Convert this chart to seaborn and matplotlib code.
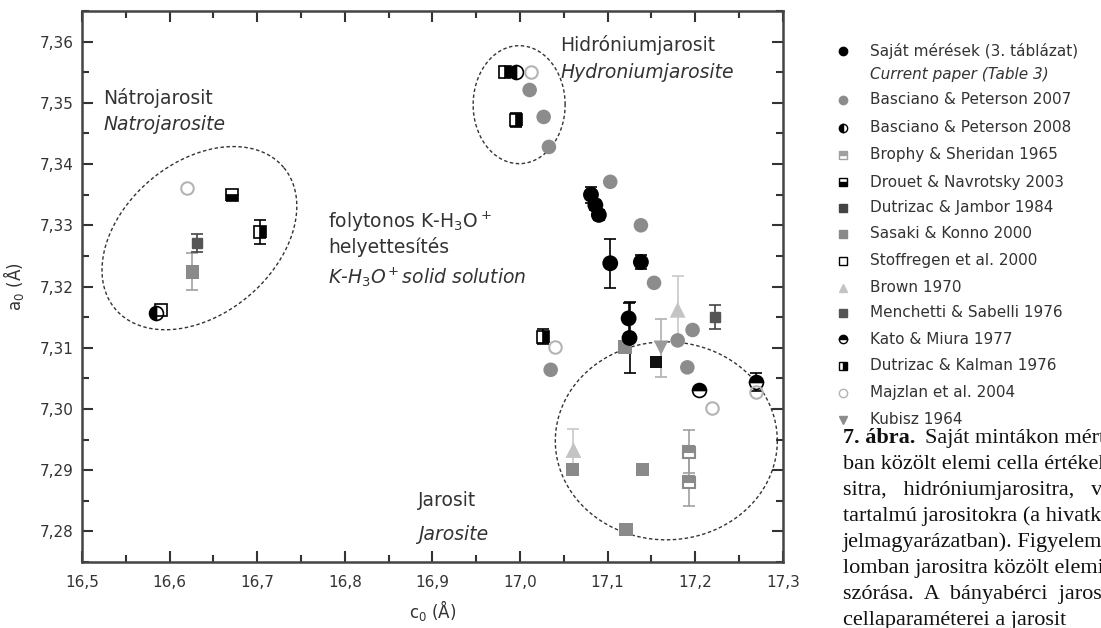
import numpy as np
import seaborn as sns
import matplotlib.pyplot as plt
from matplotlib.lines import Line2D
from matplotlib.ticker import MultipleLocator, FuncFormatter

# c0 / a0 values (Å)
sajat_c = [17.081, 17.086, 17.090, 17.103, 17.138, 17.124, 17.125]
sajat_a = [7.3350, 7.3333, 7.3317, 7.3238, 7.3240, 7.3148, 7.3116]
sajat_err = [0.0013, 0.0008, 0.0008, 0.0040, 0.0012, 0.0025, 0.0058]

bp2007_c = [17.011, 17.027, 17.033, 17.103, 17.138, 17.153, 17.035, 17.180, 17.197, 17.191]
bp2007_a = [7.3521, 7.3477, 7.3428, 7.3371, 7.3300, 7.3206, 7.3064, 7.3112, 7.3129, 7.3068]

bp2008_c = [16.995, 16.585]
bp2008_a = [7.3551, 7.3156]

brophy_c = [17.193, 17.193]
brophy_a = [7.2930, 7.2881]
brophy_err = [0.0035, 0.0040]

drouet_c = [16.671]
drouet_a = [7.3349]

dj_c = [17.155]
dj_a = [7.3077]

sasaki_c = [16.626, 17.120, 17.060, 17.140, 17.121]
sasaki_a = [7.3224, 7.3101, 7.2901, 7.2901, 7.2803]
sasaki_err = [0.0030, 0, 0, 0, 0]

stoff_c = [16.590]
stoff_a = [7.3162]

brown_c = [17.180, 17.061]
brown_a = [7.3162, 7.2933]
brown_err = [0.0055, 0.0035]

menchetti_c = [17.223, 16.631]
menchetti_a = [7.3150, 7.3271]
menchetti_err = [0.0020, 0.0015]

kato_c = [17.204, 17.269]
kato_a = [7.3031, 7.3044]
kato_err = [0, 0.0015]

dk_c = [16.983, 16.995, 16.703, 17.026]
dk_a = [7.3551, 7.3472, 7.3289, 7.3118]
dk_err = [0, 0.0012, 0.0019, 0.0012]

majzlan_c = [17.012, 16.620, 17.040, 17.219, 17.269]
majzlan_a = [7.3550, 7.3361, 7.3101, 7.3001, 7.3028]

kubisz_c = [17.161]
kubisz_a = [7.3100]
kubisz_err = [0.0047]

legend_labels = ["Saját mérések (3. táblázat)", "Current paper (Table 3)",
                 "Basciano & Peterson 2007", "Basciano & Peterson 2008",
                 "Brophy & Sheridan 1965", "Drouet & Navrotsky 2003",
                 "Dutrizac & Jambor 1984", "Sasaki & Konno 2000",
                 "Stoffregen et al. 2000", "Brown 1970",
                 "Menchetti & Sabelli 1976", "Kato & Miura 1977",
                 "Dutrizac & Kalman 1976", "Majzlan et al. 2004", "Kubisz 1964"]

sns.set_style("ticks")
plt.rcParams['font.family'] = ['DejaVu Sans']
plt.rcParams['mathtext.fontset'] = 'dejavusans'

fig = plt.figure(figsize=(11.01, 6.28), dpi=100)
ax = fig.add_axes([0.0745, 0.105, 0.6365, 0.8775])
ax.set_xlim(16.5, 17.3)
ax.set_ylim(7.275, 7.365)

# dashed ellipses (drawn in pixel units so the tilt looks right)
sx = 0.6365 * 1101 / 0.8
sy = 0.8775 * 628 / 0.09
def ellipse(cx, cy, a_px, b_px, ang):
    t = np.linspace(0, 2 * np.pi, 300)
    u, v = a_px * np.cos(t), b_px * np.sin(t)
    r = np.deg2rad(ang)
    xr = u * np.cos(r) - v * np.sin(r)
    yr = u * np.sin(r) + v * np.cos(r)
    ax.plot(cx + xr / sx, cy + yr / sy, color='#333333', lw=1.0,
            ls=(0, (2.5, 1.8)), zorder=1)

ellipse(16.634, 7.3279, 110, 76, 40)
ellipse(16.999, 7.3497, 46, 59, 0)
ellipse(17.167, 7.2948, 111, 99, 0)

# error bars
def ebars(c, a, err, col):
    ax.errorbar(c, a, yerr=err, fmt='none', ecolor=col, elinewidth=1.2,
                capsize=4, capthick=1.2, zorder=2)

ebars(sajat_c, sajat_a, sajat_err, 'black')
ebars(brophy_c, brophy_a, brophy_err, '#a0a0a0')
ebars(sasaki_c, sasaki_a, sasaki_err, '#a0a0a0')
ebars(brown_c, brown_a, brown_err, '#c8c8c8')
ebars(menchetti_c, menchetti_a, menchetti_err, '#444444')
ebars(kato_c, kato_a, kato_err, 'black')
ebars(dk_c, dk_a, dk_err, 'black')
ebars(kubisz_c, kubisz_a, kubisz_err, '#b0b0b0')

# plain markers via seaborn
sns.scatterplot(x=bp2007_c, y=bp2007_a, color='#8c8c8c', s=110, marker='o',
                edgecolor='none', ax=ax, zorder=3)
sns.scatterplot(x=sasaki_c, y=sasaki_a, color='#8a8a8a', s=95, marker='s',
                edgecolor='none', ax=ax, zorder=3)
sns.scatterplot(x=brown_c, y=brown_a, color='#c4c4c4', s=130, marker='^',
                edgecolor='none', ax=ax, zorder=3)
sns.scatterplot(x=kubisz_c, y=kubisz_a, color='#9a9a9a', s=110, marker='v',
                edgecolor='none', ax=ax, zorder=3)
sns.scatterplot(x=dj_c, y=dj_a, color='#111111', s=80, marker='s',
                edgecolor='none', ax=ax, zorder=3)
sns.scatterplot(x=sajat_c, y=sajat_a, color='black', s=130, marker='o',
                edgecolor='none', ax=ax, zorder=4)

# special (half filled / open) markers
ax.plot(bp2008_c, bp2008_a, 'o', ms=10, mfc='black', mec='black',
        fillstyle='left', markerfacecoloralt='white', mew=1.2, ls='none', zorder=4)
ax.plot(brophy_c, brophy_a, 's', ms=9, mfc='#8a8a8a', mec='#8a8a8a',
        fillstyle='top', markerfacecoloralt='white', mew=1.5, ls='none', zorder=4)
ax.plot(drouet_c, drouet_a, 's', ms=8, mfc='black', mec='black',
        fillstyle='bottom', markerfacecoloralt='white', mew=1.2, ls='none', zorder=4)
ax.plot(stoff_c, stoff_a, 's', ms=8, mfc='none', mec='black', mew=1.2,
        ls='none', zorder=4)
ax.plot(menchetti_c, menchetti_a, 's', ms=7, mfc='#555555', mec='#555555',
        ls='none', zorder=4)
ax.plot(kato_c, kato_a, 'o', ms=10, mfc='black', mec='black',
        fillstyle='top', markerfacecoloralt='white', mew=1.2, ls='none', zorder=4)
ax.plot(dk_c, dk_a, 's', ms=8, mfc='black', mec='black',
        fillstyle='right', markerfacecoloralt='white', mew=1.2, ls='none', zorder=4)
ax.plot(majzlan_c, majzlan_a, 'o', ms=9, mfc='none', mec='#b4b4b4', mew=1.5,
        ls='none', zorder=4)

# axes styling
for sp in ax.spines.values():
    sp.set_linewidth(1.8)
    sp.set_color('#444444')
ax.xaxis.set_major_locator(MultipleLocator(0.1))
ax.xaxis.set_minor_locator(MultipleLocator(0.05))
ax.yaxis.set_major_locator(MultipleLocator(0.01))
ax.yaxis.set_minor_locator(MultipleLocator(0.005))
ax.xaxis.set_major_formatter(FuncFormatter(lambda v, p: f"{v:.1f}".replace('.', ',')))
ax.yaxis.set_major_formatter(FuncFormatter(lambda v, p: f"{v:.2f}".replace('.', ',')))
ax.tick_params(which='both', direction='in', top=True, right=True,
               colors='#333333', labelsize=11, width=1.5)
ax.tick_params(which='major', length=8)
ax.tick_params(axis='x', which='major', pad=9)
ax.tick_params(axis='y', which='major', pad=6)
ax.tick_params(which='minor', length=5)
ax.set_xlabel("c$_0$ (Å)", fontsize=12, color='#333333', labelpad=6)
ax.set_ylabel("a$_0$ (Å)", fontsize=12, color='#333333', labelpad=10)

# annotations
tc = '#333333'
ax.text(16.524, 7.3508, "Nátrojarosit", fontsize=13.5, color=tc, va='center')
ax.text(16.524, 7.3464, "Natrojarosite", fontsize=13.5, color=tc, va='center', style='italic')
ax.text(17.046, 7.3595, "Hidróniumjarosit", fontsize=13.5, color=tc, va='center')
ax.text(17.046, 7.3550, "Hydroniumjarosite", fontsize=13.5, color=tc, va='center', style='italic')
ax.text(16.781, 7.3305, "folytonos K-H$_3$O$^+$", fontsize=13.5, color=tc, va='center')
ax.text(16.781, 7.3264, "helyettesítés", fontsize=13.5, color=tc, va='center')
ax.text(16.781, 7.3215, "K-H$_3$O$^+$solid solution", fontsize=13.5, color=tc,
        va='center', style='italic')
ax.text(16.884, 7.2851, "Jarosit", fontsize=13.5, color=tc, va='center')
ax.text(16.884, 7.2795, "Jarosite", fontsize=13.5, color=tc, va='center', style='italic')

# legend, placed by hand
handles = [
    dict(marker='o', mfc='black', mec='black'),
    None,
    dict(marker='o', mfc='#8c8c8c', mec='#8c8c8c'),
    dict(marker='o', mfc='black', mec='black', fillstyle='left', markerfacecoloralt='white'),
    dict(marker='s', mfc='#a0a0a0', mec='#a0a0a0', fillstyle='top', markerfacecoloralt='white'),
    dict(marker='s', mfc='black', mec='black', fillstyle='bottom', markerfacecoloralt='white'),
    dict(marker='s', mfc='#444444', mec='#444444'),
    dict(marker='s', mfc='#8a8a8a', mec='#8a8a8a'),
    dict(marker='s', mfc='none', mec='black'),
    dict(marker='^', mfc='#c4c4c4', mec='#c4c4c4'),
    dict(marker='s', mfc='#555555', mec='#555555'),
    dict(marker='o', mfc='black', mec='black', fillstyle='top', markerfacecoloralt='white'),
    dict(marker='s', mfc='black', mec='black', fillstyle='right', markerfacecoloralt='white'),
    dict(marker='o', mfc='none', mec='#b4b4b4'),
    dict(marker='v', mfc='#8c8c8c', mec='#8c8c8c'),
]
rows_px = [51, 74, 100, 128, 155, 182, 208, 234, 261, 288, 313, 339, 366, 393, 420]
for lab, h, ypx in zip(legend_labels, handles, rows_px):
    yf = 1 - ypx / 628
    if h is not None:
        fig.add_artist(Line2D([843 / 1101], [yf], ls='none', ms=6, mew=1,
                              transform=fig.transFigure, **h))
    fig.text(870 / 1101, yf, lab, fontsize=11, color='#333333', va='center',
             style='italic' if h is None else 'normal')

# caption (runs off the right edge as on the original page)
cap_font = 16
caption = ["Saját mintákon mért és az irodalom-",
           "ban közölt elemi cella értékek a nátrojaro-",
           "sitra,   hidróniumjarositra,   valamint",
           "tartalmú jarositokra (a hivatkozások",
           "jelmagyarázatban). Figyelemre méltó",
           "lomban jarositra közölt elemi cella",
           "szórása.  A  bányabérci  jarosit",
           "cellaparaméterei a jarosit"]
for i, line in enumerate(caption):
    yf = 1 - (438 + i * 26) / 628
    if i == 0:
        fig.text(843 / 1101, yf, "7. ábra.", fontsize=cap_font, va='center',
                 family='Liberation Serif', weight='bold', color='#111111')
        fig.text(925 / 1101, yf, line, fontsize=cap_font, va='center',
                 family='Liberation Serif', color='#111111')
    else:
        fig.text(843 / 1101, yf, line, fontsize=cap_font, va='center',
                 family='Liberation Serif', color='#111111')

fig.savefig("out.png", dpi=100)
